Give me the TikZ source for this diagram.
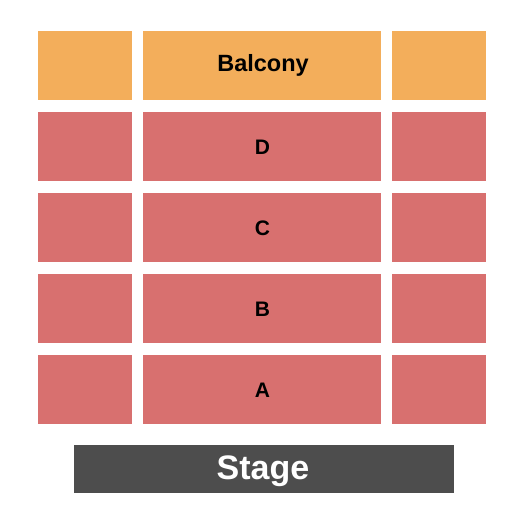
\documentclass[tikz,border=0pt]{standalone}
\usepackage{fontspec}
\setmainfont{Liberation Sans}
\definecolor{balc}{HTML}{F3AE5B}
\definecolor{sect}{HTML}{D8706F}
\definecolor{stagec}{HTML}{4D4D4D}
\begin{document}
\begin{tikzpicture}[x=1pt,y=-1pt,
  sec/.style={fill=sect,draw=none},
  bal/.style={fill=balc,draw=none},
  lbl/.style={font=\fontsize{21}{25}\selectfont\bfseries,text=black},
]
\useasboundingbox (0,0) rectangle (525,525);
% balcony row
\fill[bal] (38,31) rectangle (132,100);
\fill[bal] (143,31) rectangle (381,100);
\fill[bal] (392,31) rectangle (486,100);
\node[lbl,font=\fontsize{23.5}{27}\selectfont\bfseries] (balcony) at (263,65) {Balcony};
% section rows
\foreach \y/\t in {112/D,193/C,274/B,355/A}{
  \fill[sec] (38,\y) rectangle (132,\y+69);
  \fill[sec] (143,\y) rectangle (381,\y+69);
  \fill[sec] (392,\y) rectangle (486,\y+69);
  \node[lbl] (sec\t) at (262.5,\y+35.5) {\t};
}
% stage
\fill[stagec] (74,445) rectangle (454,493);
\node[font=\fontsize{34}{38}\selectfont\bfseries,text=white] (stage) at (263,471) {Stage};
\end{tikzpicture}
\end{document}
